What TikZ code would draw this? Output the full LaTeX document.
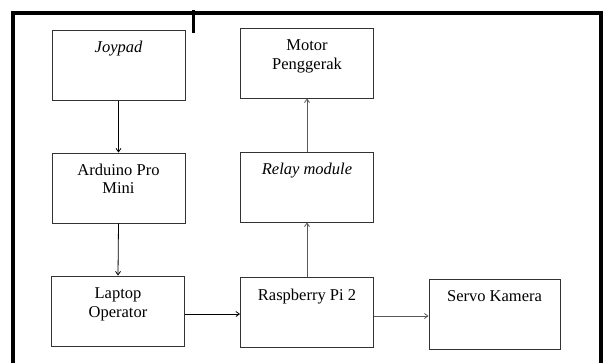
\documentclass[tikz,border=0pt]{standalone}
\usepackage{fontspec}
\setmainfont{Liberation Serif}
\usetikzlibrary{arrows.meta}
\begin{document}
\begin{tikzpicture}[x=1pt,y=-1pt,
  box/.style={draw=black!80,line width=0.9pt,minimum width=133pt,minimum height=70pt,inner sep=0pt},
  lbl/.style={anchor=north,align=center,inner sep=0pt,font=\fontsize{16.5}{18.5}\selectfont},
  arr/.style={-{Straight Barb[length=3.5pt,width=5pt]},line width=0.8pt},
  garr/.style={arr,draw=black!65}]
\useasboundingbox (0,0) rectangle (606,362);
\fill[white] (0,0) rectangle (606,362);
% outer frame
\draw[line width=4pt] (13,364) -- (13,13) -- (601,13) -- (601,364);
\draw[line width=2.3pt] (193.5,10) -- (193.5,33);
% boxes
\node[box] (joy) at (118.5,65.5) {};
\node[box] (ard) at (118.5,188) {};
\node[box] (lap) at (118,311) {};
\node[box] (mot) at (307,63) {};
\node[box] (rel) at (307,187) {};
\node[box] (ras) at (307,312.5) {};
\node[box,minimum width=131pt] (ser) at (494.5,314) {};
% labels
\node[lbl] (joyT) at ([yshift=-11pt]joy.north) {\itshape Joypad};
\node[lbl] (ardT) at ([yshift=-11pt]ard.north) {Arduino Pro\\Mini};
\node[lbl] (lapT) at ([yshift=-12pt]lap.north) {Laptop\\Operator};
\node[lbl] (motT) at ([yshift=-12pt]mot.north) {Motor\\Penggerak};
\node[lbl] (relT) at ([yshift=-11pt]rel.north) {\itshape Relay module};
\node[lbl] (rasT) at ([yshift=-12pt]ras.north) {Raspberry Pi 2};
\node[lbl] (serT) at ([yshift=-12pt]ser.north) {Servo Kamera};
% connectors
\draw[arr] (joy.south) -- (ard.north);
\draw[arr] (ard.south) -- (lap.north);
\draw[arr] (lap.east |- 0,314) -- (ras.west |- 0,314);
\draw[garr] (ras.north) -- (rel.south);
\draw[garr] (rel.north) -- (mot.south);
\draw[garr] (ras.east |- 0,316) -- (ser.west |- 0,316);
\end{tikzpicture}
\end{document}
